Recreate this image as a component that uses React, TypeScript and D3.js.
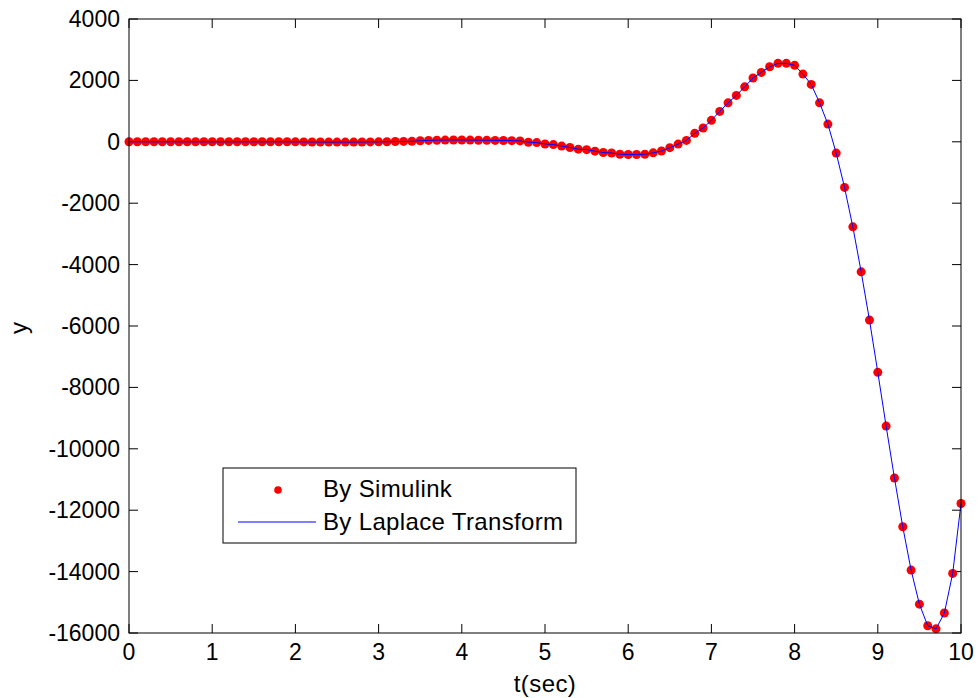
import React from "react";
import { scaleLinear, line, range } from "d3";

// sample times 0..10 s, step 0.1
const tSec = range(0, 101).map((i) => i / 10);

// Simulink output
const simulinkY = [
  0, 0, 0, 0, 0, 0, 0, 0, 0, 0,
  0, 0, 0, 0, 0, 0, 0, 0, 0, 0,
  -2, -4, -6, -8, -9, -10, -10, -9, -7, -4,
  -2, 3, 8, 12, 16, 35, 45, 52, 56, 58,
  58, 56, 52, 48, 45, 42, 38, 30, -15, -25,
  -70, -90, -140, -185, -240, -255, -305, -350, -365, -405,
  -415, -415, -405, -360, -300, -190, -75, 45, 275, 450,
  700, 990, 1270, 1510, 1790, 2080, 2260, 2445, 2555, 2555,
  2490, 2205, 1870, 1270, 576, -368, -1485, -2770, -4235, -5808,
  -7510, -9260, -10950, -12540, -13950, -15060, -15765, -15865, -15350, -14060,
  -11780,
];

// Laplace transform solution (same curve)
const laplaceY = simulinkY;

const xTicks = [0, 1, 2, 3, 4, 5, 6, 7, 8, 9, 10];
const yTicks = [4000, 2000, 0, -2000, -4000, -6000, -8000, -10000, -12000, -14000, -16000];
const legendLabels = ["By Simulink", "By Laplace Transform"];

const W = 978;
const H = 698;
const left = 129;
const right = 961;
const top = 19;
const bottom = 633;
const tickLen = 9;
const font = "Arial, 'Liberation Sans', sans-serif";
const fs = 23;

const App = () => {
  const x = scaleLinear().domain([0, 10]).range([left, right]);
  const y = scaleLinear().domain([-16000, 4000]).range([bottom, top]);

  const path = line<number>()
    .x((d, i) => x(tSec[i]))
    .y((d) => y(d))(laplaceY);

  return (
    <svg
      width={W}
      height={H}
      viewBox={`0 0 ${W} ${H}`}
      style={{ position: "absolute", left: 0, top: 0, background: "#fff" }}
      fontFamily={font}
    >
      {/* ticks */}
      {xTicks.map((t) => (
        <g key={"x" + t}>
          <line x1={x(t)} x2={x(t)} y1={bottom} y2={bottom - tickLen} stroke="#000" />
          <line x1={x(t)} x2={x(t)} y1={top} y2={top + tickLen} stroke="#000" />
          <text x={x(t)} y={bottom + 27} fontSize={fs} textAnchor="middle">
            {t}
          </text>
        </g>
      ))}
      {yTicks.map((v) => (
        <g key={"y" + v}>
          <line x1={left} x2={left + tickLen} y1={y(v)} y2={y(v)} stroke="#000" />
          <line x1={right} x2={right - tickLen} y1={y(v)} y2={y(v)} stroke="#000" />
          <text x={left - 9} y={y(v) + 8} fontSize={fs} textAnchor="end">
            {v}
          </text>
        </g>
      ))}

      {/* data */}
      {simulinkY.map((v, i) => (
        <circle key={i} cx={x(tSec[i])} cy={y(v)} r={4.5} fill="#ff0000" />
      ))}
      <path d={path ?? ""} fill="none" stroke="#0000ff" strokeWidth={1} />

      {/* box */}
      <rect x={left} y={top} width={right - left} height={bottom - top} fill="none" stroke="#000" />

      {/* axis labels */}
      <text x={(left + right) / 2} y={692} fontSize={24} textAnchor="middle" letterSpacing={0.4}>
        t(sec)
      </text>
      <text transform="translate(27,328) rotate(-90)" fontSize={24} textAnchor="middle">
        y
      </text>

      {/* legend */}
      <rect x={223} y={468} width={353} height={75} fill="#fff" stroke="#000" />
      <circle cx={278} cy={490} r={3.8} fill="#ff0000" />
      <line x1={238} x2={316} y1={522} y2={522} stroke="#0000ff" />
      <text x={323} y={497} fontSize={24} letterSpacing={0.35}>
        {legendLabels[0]}
      </text>
      <text x={323} y={530} fontSize={24} letterSpacing={0.35}>
        {legendLabels[1]}
      </text>
    </svg>
  );
};

export default App;
